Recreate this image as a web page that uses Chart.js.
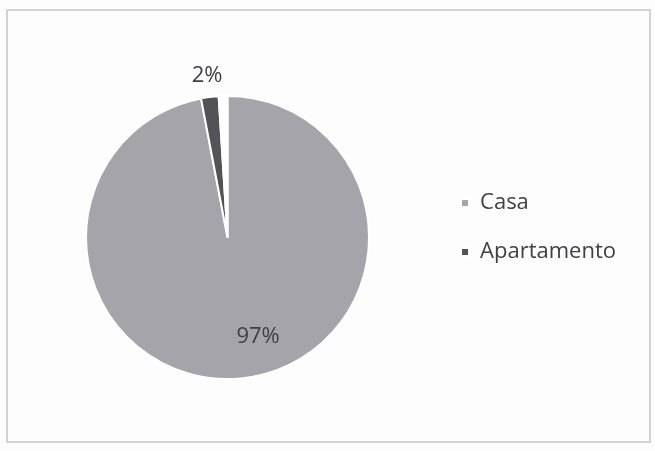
<!DOCTYPE html>
<html>
<head>
<meta charset="utf-8">
<script src="https://cdn.jsdelivr.net/npm/chart.js@4/dist/chart.umd.min.js"></script>
<style>
  html, body { margin: 0; padding: 0; background: #fdfdfd; }
  #wrap { position: relative; width: 655px; height: 451px; }
  canvas { display: block; }
</style>
</head>
<body>
<div id="wrap"><canvas id="c" width="655" height="451"></canvas></div>
<script>
// Data
const categories = ["Casa", "Apartamento", ""];
const values = [97, 2, 1];
const valueLabels = ["97%", "2%", ""];
const sliceColors = ["#a4a4aa", "#525257", "#ffffff"];

// Frame around the chart
const framePlugin = {
  id: 'frame',
  beforeDraw(chart) {
    const ctx = chart.ctx;
    ctx.save();
    ctx.strokeStyle = '#d2d2d2';
    ctx.lineWidth = 2;
    ctx.strokeRect(7, 10, 643, 432);
    ctx.restore();
  }
};

// Label style per slice: distance as fraction of radius, plus offsets
const labelStyle = [
  { dist: 0.72, dx: 21, dy: -2 },
  { dist: 1.15, dx: 0, dy: 0 },
  null
];

const labelPlugin = {
  id: 'sliceLabels',
  afterDatasetsDraw(chart) {
    const ctx = chart.ctx;
    const meta = chart.getDatasetMeta(0);
    ctx.save();
    ctx.font = '22px "Open Sans"';
    ctx.fillStyle = '#404045';
    ctx.textAlign = 'center';
    ctx.textBaseline = 'middle';
    meta.data.forEach((arc, i) => {
      const st = labelStyle[i];
      if (!st || !valueLabels[i]) return;
      const p = arc.getProps(['x', 'y', 'startAngle', 'endAngle', 'outerRadius'], true);
      const mid = (p.startAngle + p.endAngle) / 2;
      const r = p.outerRadius * st.dist;
      const x = p.x + Math.cos(mid) * r + st.dx;
      const y = p.y + Math.sin(mid) * r + st.dy;
      ctx.fillText(valueLabels[i], x, y);
    });
    ctx.restore();
  }
};

new Chart(document.getElementById('c'), {
  type: 'pie',
  data: {
    labels: categories,
    datasets: [{
      data: values,
      backgroundColor: sliceColors,
      borderColor: '#ffffff',
      borderWidth: 2
    }]
  },
  options: {
    responsive: false,
    animation: false,
    layout: { padding: { left: 21, right: 29, top: 95, bottom: 71 } },
    plugins: {
      tooltip: { enabled: false },
      legend: {
        position: 'right',
        align: 'start',
        title: { display: true, text: ' ', font: { size: 10 }, padding: { top: 58, bottom: 0 } },
        labels: {
          boxWidth: 8,
          boxHeight: 8,
          padding: 27,
          color: '#404045',
          font: { family: '"Open Sans"', size: 22 },
          filter: (item) => item.index < 2
        }
      }
    }
  },
  plugins: [framePlugin, labelPlugin]
});
</script>
</body>
</html>
